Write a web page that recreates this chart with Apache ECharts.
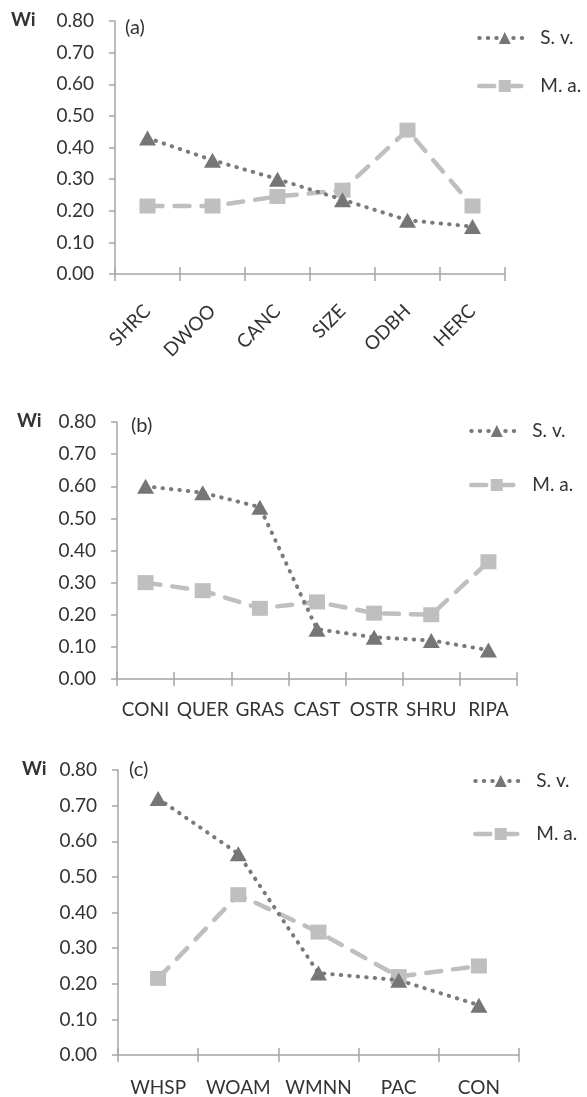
<!DOCTYPE html>
<html>
<head>
<meta charset="utf-8">
<script src="https://cdn.jsdelivr.net/npm/echarts@6/dist/echarts.min.js"></script>
<style>
html,body{margin:0;padding:0;background:#fff;}
#chart{width:587px;height:1097px;}
</style>
</head>
<body>
<div id="chart"></div>
<script>
// ---- data ----
var catsA = ['SHRC', 'DWOO', 'CANC', 'SIZE', 'ODBH', 'HERC'];
var svA = [0.43, 0.36, 0.30, 0.235, 0.17, 0.15];
var maA = [0.215, 0.215, 0.245, 0.265, 0.455, 0.215];

var catsB = ['CONI', 'QUER', 'GRAS', 'CAST', 'OSTR', 'SHRU', 'RIPA'];
var svB = [0.60, 0.58, 0.535, 0.155, 0.13, 0.12, 0.09];
var maB = [0.30, 0.275, 0.22, 0.24, 0.205, 0.20, 0.365];

var catsC = ['WHSP', 'WOAM', 'WMNN', 'PAC', 'CON'];
var svC = [0.72, 0.565, 0.23, 0.21, 0.14];
var maC = [0.215, 0.45, 0.345, 0.22, 0.25];

var seriesNames = ['S. v.', 'M. a.'];
var panelLabels = ['(a)', '(b)', '(c)'];
var yName = 'Wi';

// ---- styles ----
var FONT = 'Lato';
var TXT = '#333333';
var AX = '#a6a6a6';
var SV_COLOR = '#767676';
var SV_LINE = '#7a7a7a';
var MA_COLOR = '#bfbfbf';
var SV_LS = {color: SV_LINE, width: 4, type: [0.5, 8], cap: 'round'};
var MA_LS = {color: MA_COLOR, width: 4.5, type: [15, 12], cap: 'round'};

var panels = [
  {cats: catsA, sv: svA, ma: maA, grid: {left: 115, top: 21, width: 390, height: 253}, rotate: true, margin: 34,
   legend: {left: 472, top: 23.5, gap: 29}, wi: [11, 21], lab: [125, 30]},
  {cats: catsB, sv: svB, ma: maB, grid: {left: 117, top: 422, width: 400, height: 257}, rotate: false, margin: 21,
   legend: {left: 464, top: 416.5, gap: 35}, wi: [17, 422], lab: [131, 428]},
  {cats: catsC, sv: svC, ma: maC, grid: {left: 118, top: 770, width: 401, height: 289}, rotate: false, margin: 23,
   legend: {left: 468, top: 766.5, gap: 34}, wi: [22, 770], lab: [129, 772]}
];

var grids = [], xAxes = [], yAxes = [], series = [], legends = [], graphics = [];

panels.forEach(function (p, i) {
  grids.push(p.grid);
  xAxes.push({
    type: 'category', gridIndex: i, data: p.cats, boundaryGap: true,
    axisLine: {lineStyle: {color: AX, width: 1.5}},
    axisTick: {show: true, length: 7, lineStyle: {color: AX, width: 1.5}},
    axisLabel: p.rotate ? {
      interval: 0, rotate: 45, margin: p.margin, fontSize: 19, fontFamily: FONT, color: TXT
    } : {
      interval: 0, margin: p.margin, fontSize: 19, fontFamily: FONT, color: TXT
    },
    splitLine: {show: false}
  });
  yAxes.push({
    type: 'value', gridIndex: i, min: 0, max: 0.8, interval: 0.1,
    axisLine: {show: true, lineStyle: {color: AX, width: 1.5}},
    axisTick: {show: true, length: 6, lineStyle: {color: AX, width: 1.5}},
    axisLabel: {margin: 21, fontSize: 19, fontFamily: FONT, color: TXT,
      formatter: function (v) { return v.toFixed(2); }},
    splitLine: {show: false}
  });
  series.push({
    name: seriesNames[0], type: 'line', xAxisIndex: i, yAxisIndex: i, data: p.sv,
    symbol: 'triangle', symbolSize: [17, 15],
    itemStyle: {color: SV_COLOR},
    lineStyle: SV_LS,
    z: 3, animation: false
  });
  series.push({
    name: seriesNames[1], type: 'line', xAxisIndex: i, yAxisIndex: i, data: p.ma,
    symbol: 'rect', symbolSize: [16, 15],
    itemStyle: {color: MA_COLOR},
    lineStyle: MA_LS,
    z: 2, animation: false
  });
  legends.push({
    data: [
      {name: seriesNames[0], lineStyle: SV_LS},
      {name: seriesNames[1], lineStyle: MA_LS}
    ],
    orient: 'vertical', left: p.legend.left, top: p.legend.top,
    itemWidth: 51, itemHeight: 15, itemGap: p.legend.gap, selectedMode: false,
    textStyle: {fontSize: 19, fontFamily: FONT, color: TXT, padding: [0, 0, 0, 5]}
  });
  graphics.push({
    type: 'text', left: p.wi[0], top: p.wi[1] - 11,
    style: {text: yName, font: 'bold 19px "' + FONT + '"', fill: TXT}
  });
  graphics.push({
    type: 'text', left: p.lab[0], top: p.lab[1] - 12,
    style: {text: panelLabels[i], font: '20px "' + FONT + '"', fill: TXT}
  });
});

// inner half of the crossing tick marks
panels.forEach(function (p, i) {
  xAxes.push({
    type: 'category', gridIndex: i, data: p.cats, boundaryGap: true, position: 'bottom',
    axisLine: {show: false},
    axisTick: {show: true, inside: true, length: 7, lineStyle: {color: AX, width: 1.5}},
    axisLabel: {show: false}, splitLine: {show: false}
  });
});

var chart = echarts.init(document.getElementById('chart'), null, {renderer: 'canvas'});
chart.setOption({
  backgroundColor: '#ffffff',
  animation: false,
  grid: grids,
  xAxis: xAxes,
  yAxis: yAxes,
  legend: legends,
  series: series,
  graphic: graphics
});
</script>
</body>
</html>
